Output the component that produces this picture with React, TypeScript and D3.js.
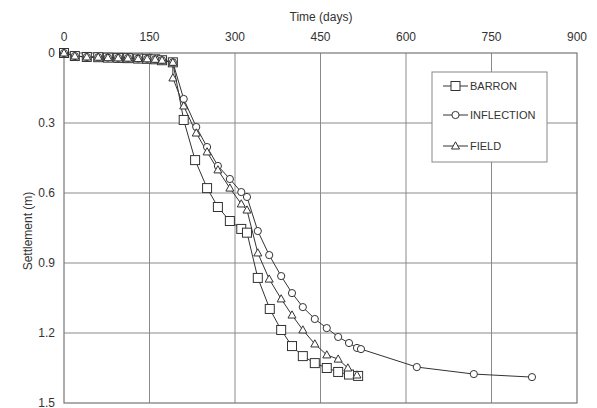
import React from "react";
import * as d3 from "d3";

const xTicks = [0, 150, 300, 450, 600, 750, 900];
const yTicks = [0, 0.3, 0.6, 0.9, 1.2, 1.5];

const earlyDays = [0, 19, 40, 60, 77, 95, 112, 130, 146, 160, 172, 191];
const earlySettle = [0, 0.013, 0.017, 0.018, 0.02, 0.021, 0.022, 0.024, 0.025, 0.027, 0.031, 0.04];

const barronDays = [210, 230, 251, 270, 291, 311, 321, 340, 361, 381, 400, 419, 440, 461, 481, 500, 516];
const barronSettle = [0.287, 0.459, 0.579, 0.66, 0.72, 0.754, 0.77, 0.964, 1.097, 1.187, 1.256, 1.299, 1.329, 1.35, 1.367, 1.378, 1.384];

const inflDays = [210, 232, 251, 270, 291, 311, 321, 340, 360, 381, 400, 419, 440, 461, 481, 500, 514, 521, 619, 719, 821];
const inflSettle = [0.197, 0.317, 0.403, 0.484, 0.54, 0.596, 0.617, 0.763, 0.866, 0.956, 1.029, 1.089, 1.14, 1.179, 1.217, 1.243, 1.264, 1.269, 1.346, 1.376, 1.389];

const fieldDays = [191, 210, 232, 251, 270, 291, 311, 321, 340, 360, 381, 400, 419, 440, 461, 481, 498, 514];
const fieldSettle = [0.107, 0.227, 0.343, 0.424, 0.501, 0.579, 0.647, 0.673, 0.857, 0.969, 1.054, 1.123, 1.187, 1.247, 1.294, 1.312, 1.35, 1.38];

type P = [number, number];
const zip = (a: number[], b: number[]): P[] => a.map((v, i) => [v, b[i]]);

const early = zip(earlyDays, earlySettle);
const series = [
  { name: "BARRON", marker: "square", pts: early.concat(zip(barronDays, barronSettle)) },
  { name: "INFLECTION", marker: "circle", pts: early.concat(zip(inflDays, inflSettle)) },
  { name: "FIELD", marker: "triangle", pts: early.concat(zip(fieldDays, fieldSettle)) },
];

const W = 597, H = 408;
const L = 64, R = 577, T = 53, B = 403;
const font = "'Liberation Sans', Arial, sans-serif";
const ink = "#333";

function Marker({ type, x, y }: { type: string; x: number; y: number }) {
  if (type === "square")
    return <rect x={x - 4.5} y={y - 4.5} width={9} height={9} fill="white" stroke={ink} strokeWidth={1} />;
  if (type === "circle")
    return <circle cx={x} cy={y} r={3.6} fill="white" stroke={ink} strokeWidth={1} />;
  return (
    <path d={`M${x},${y - 4.2}L${x + 4},${y + 3}L${x - 4},${y + 3}Z`} fill="white" stroke={ink} strokeWidth={1} />
  );
}

export default function App() {
  const x = d3.scaleLinear().domain([0, 900]).range([L, R]);
  const y = d3.scaleLinear().domain([0, 1.5]).range([T, B]);
  const line = d3.line<P>().x((d) => x(d[0])).y((d) => y(d[1]));

  const legY = [86, 115, 146];

  return (
    <svg width={W} height={H} style={{ position: "absolute", left: 0, top: 0, background: "white" }} fontFamily={font}>
      {xTicks.slice(1, -1).map((t) => (
        <line key={"gx" + t} x1={x(t)} x2={x(t)} y1={T} y2={B} stroke="#8a8a8a" strokeWidth={1} />
      ))}
      {yTicks.slice(1, -1).map((t) => (
        <line key={"gy" + t} x1={L} x2={R} y1={y(t)} y2={y(t)} stroke="#8a8a8a" strokeWidth={1} />
      ))}
      <rect x={L} y={T} width={R - L} height={B - T} fill="none" stroke="#777" strokeWidth={1.2} />
      {xTicks.map((t) => (
        <text key={"tx" + t} x={x(t)} y={41} textAnchor="middle" fontSize={12} fill={ink}>
          {t}
        </text>
      ))}
      {yTicks.map((t) => (
        <text key={"ty" + t} x={55} y={y(t) + 4} textAnchor="end" fontSize={12} fill={ink}>
          {t}
        </text>
      ))}
      <text x={321} y={21} textAnchor="middle" fontSize={12} fill={ink}>Time (days)</text>
      <text transform={`translate(32,${(T + B) / 2 + 3}) rotate(-90)`} textAnchor="middle" fontSize={12} fill={ink}>
        Settlement (m)
      </text>

      {series.map((s) => (
        <path key={s.name} d={line(s.pts) || ""} fill="none" stroke={ink} strokeWidth={1} />
      ))}
      {series.map((s) =>
        s.pts.map((p, i) => <Marker key={s.name + i} type={s.marker} x={x(p[0])} y={y(p[1])} />)
      )}

      <rect x={432} y={72} width={115} height={90} fill="white" stroke="#888" strokeWidth={1} />
      {series.map((s, i) => (
        <g key={"leg" + s.name}>
          <line x1={443} x2={468} y1={legY[i]} y2={legY[i]} stroke={ink} strokeWidth={1} />
          <Marker type={s.marker} x={455.5} y={legY[i]} />
          <text x={470} y={legY[i] + 4} fontSize={11} fill={ink}>{s.name}</text>
        </g>
      ))}
    </svg>
  );
}
